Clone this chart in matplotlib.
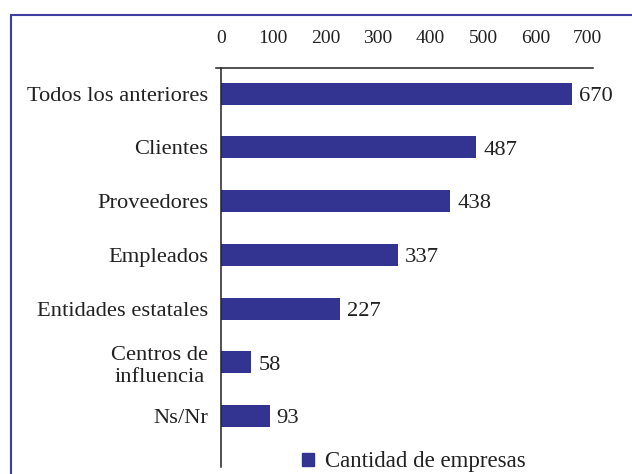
import matplotlib
matplotlib.use("Agg")
import matplotlib.pyplot as plt
from matplotlib.patches import Rectangle, Patch

categories = ["Todos los anteriores", "Clientes", "Proveedores", "Empleados",
              "Entidades estatales", "Centros de\ninfluencia", "Ns/Nr"]
values = [670, 487, 438, 337, 227, 58, 93]
xticks = [0, 100, 200, 300, 400, 500, 600, 700]
legend_label = "Cantidad de empresas"

bar_color = "#333391"
frame_color = "#3d3d9e"
text_color = "#222222"
W, H = 632, 474

plt.rcParams["font.family"] = ["Liberation Serif", "DejaVu Serif"]

fig = plt.figure(figsize=(W / 100, H / 100), dpi=100)
ax = fig.add_axes([216 / W, 1 - 467 / H, (593 - 216) / W, (467 - 68) / H])

ypos = list(range(len(categories)))
bars = ax.barh(ypos, values, height=0.41, color=bar_color)
ax.set_ylim(6.95, -0.48)
ax.set_xlim(-9.5, 710)

for s in ["right", "bottom"]:
    ax.spines[s].set_visible(False)
ax.spines["left"].set_position(("data", 0))
for s in ["left", "top"]:
    ax.spines[s].set_color(text_color)
    ax.spines[s].set_linewidth(1.1)

ax.xaxis.tick_top()
ax.set_xticks(xticks)
ax.set_xticklabels([str(t) for t in xticks], fontsize=14, color=text_color)
ax.tick_params(axis="x", which="major", length=0, pad=15)
ax.set_xticks([0], minor=True)
ax.tick_params(axis="x", which="minor", top=True, bottom=False, length=2.5,
               width=1.1, color=text_color, direction="out")

ax.set_yticks(ypos)
ax.set_yticklabels(categories, fontsize=16.2, color=text_color)
ax.tick_params(axis="y", length=0, pad=9)
for lab in ax.get_yticklabels():
    lab.set_multialignment("center")

for y, v in zip(ypos, values):
    ax.annotate(str(v), xy=(v, y), xytext=(5, -2), textcoords="offset points",
                ha="left", va="center", fontsize=16.2, color=text_color)

handle = Patch(facecolor=bar_color, edgecolor=bar_color)
fig.legend(handles=[handle], labels=[legend_label], loc="center left",
           bbox_to_anchor=(302 / W, 1 - 462 / H), frameon=False,
           borderaxespad=0, borderpad=0, handlelength=0.52, handleheight=0.52,
           handletextpad=0.48, fontsize=16.5, labelcolor=text_color)

fig.patches.append(Rectangle((11 / W, -0.05), 1.1, 1 - 15 / H + 0.05,
                             transform=fig.transFigure, fill=False,
                             edgecolor=frame_color, linewidth=1.5))

fig.savefig("out.png", dpi=100)
